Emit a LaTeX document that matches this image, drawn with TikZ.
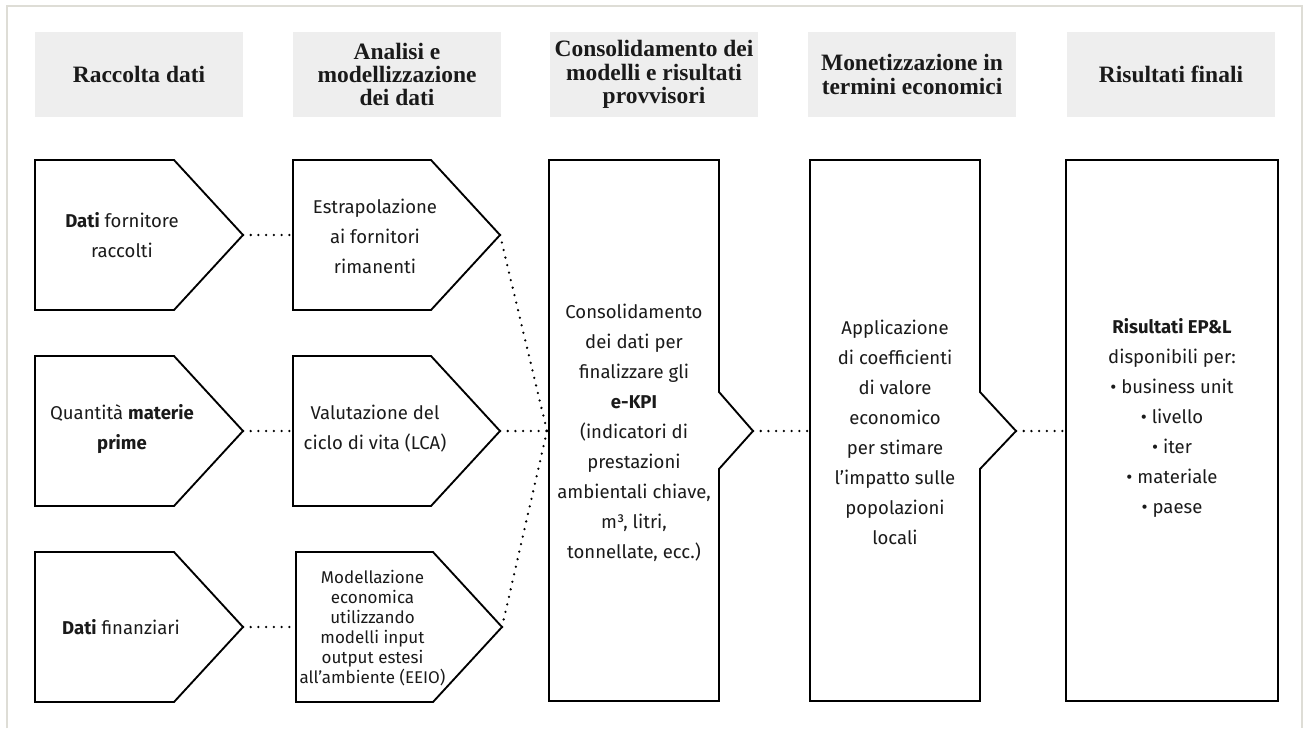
\documentclass[tikz,border=0pt]{standalone}
\usepackage{fontspec}
\setmainfont{Fira Sans}
\newfontfamily\headfont{Liberation Serif}
\definecolor{framegray}{HTML}{DEDDD6}
\definecolor{headgray}{HTML}{EEEEEE}
\definecolor{inkblack}{HTML}{1A1A1A}
\begin{document}
\begin{tikzpicture}[x=0.75pt,y=-0.75pt,
    headbox/.style={fill=headgray, minimum width=156pt, minimum height=63.75pt, align=center,
      text=inkblack, font=\headfont\bfseries\fontsize{17.6}{17.6}\selectfont},
    bodytext/.style={align=center, text=inkblack, font=\fontsize{13.9}{22.5}\selectfont},
    shapeline/.style={draw=black, line width=1.4pt, line join=miter},
    link/.style={line width=1.9pt, line cap=round, dash pattern=on 0pt off 5.8pt}]
    \useasboundingbox (0,0) rectangle (1308,728);

    % Marco exterior (abierto por abajo).
    \draw[framegray, line width=2pt] (7,728) -- (7,6) -- (1302,6) -- (1302,728);

    % Cabeceras de las cinco fases.
    \node[headbox] (h1) at (139,74.5) {Raccolta dati};
    \node[headbox] (h2) at (397,74.5) {Analisi e\\modellizzazione\\dei dati};
    \node[headbox] (h3) at (654,74.5) {Consolidamento dei\\modelli e risultati\\provvisori};
    \node[headbox] (h4) at (912,74.5) {Monetizzazione in\\termini economici};
    \node[headbox] (h5) at (1171,74.5) {Risultati finali};

    % Pentágonos de las dos primeras columnas.
    \draw[shapeline] (35,160) -- (174,160) -- (243,235) -- (174,310) -- (35,310) -- cycle;
    \draw[shapeline] (35,356) -- (174,356) -- (243,431) -- (174,506) -- (35,506) -- cycle;
    \draw[shapeline] (35,552) -- (174,552) -- (243,627) -- (174,702) -- (35,702) -- cycle;
    \draw[shapeline] (293,160) -- (431,160) -- (500,235) -- (431,310) -- (293,310) -- cycle;
    \draw[shapeline] (293,356) -- (431,356) -- (500,431) -- (431,506) -- (293,506) -- cycle;
    \draw[shapeline] (296,552) -- (433,552) -- (502,627) -- (433,702) -- (296,702) -- cycle;

    % Cajas altas con punta a la derecha y caja final.
    \draw[shapeline] (549,160) -- (719,160) -- (719,392) -- (753,431) -- (719,469) -- (719,701) -- (549,701) -- cycle;
    \draw[shapeline] (810,160) -- (980,160) -- (980,392) -- (1016,431) -- (980,469) -- (980,701) -- (810,701) -- cycle;
    \draw[shapeline] (1066,160) rectangle (1278,701);

    % Textos de cada figura.
    \node[bodytext] (t11) at (122,235) {\textbf{Dati} fornitore\\raccolti};
    \node[bodytext] (t12) at (122,429) {Quantità \textbf{materie}\\\textbf{prime}};
    \node[bodytext] (t13) at (121,627) {\textbf{Dati} finanziari};
    \node[bodytext] (t21) at (375,236) {Estrapolazione\\ai fornitori\\rimanenti};
    \node[bodytext] (t22) at (375,429) {Valutazione del\\ciclo di vita (LCA)};
    \node[bodytext, font=\fontsize{12.75}{15}\selectfont] (t23) at (372.5,628)
      {Modellazione\\economica\\utilizzando\\modelli input\\output estesi\\all’ambiente (EEIO)};
    \node[bodytext] (t3) at (634,433) {Consolidamento\\dei dati per\\finalizzare gli\\\textbf{e-KPI}\\(indicatori di\\prestazioni\\ambientali chiave,\\m³, litri,\\tonnellate, ecc.)};
    \node[bodytext] (t4) at (895,432) {Applicazione\\di coefficienti\\di valore\\economico\\per stimare\\l’impatto sulle\\popolazioni\\locali};
    \node[bodytext] (t5) at (1172,418) {\textbf{Risultati EP\&L}\\disponibili per:\\• business unit\\• livello\\• iter\\• materiale\\• paese};

    % Puntas y entradas que unen los conectores punteados.
    \coordinate (A1) at (243,235); \coordinate (B1) at (293,235);
    \coordinate (A2) at (243,431); \coordinate (B2) at (293,431);
    \coordinate (A3) at (243,627); \coordinate (B3) at (296,627);
    \coordinate (C1) at (500,235); \coordinate (C2) at (500,431); \coordinate (C3) at (502,627);
    \coordinate (J) at (547,431);
    \coordinate (K) at (753,431); \coordinate (L) at (810,431);
    \coordinate (M) at (1016,431); \coordinate (N) at (1066,431);

    % Conectores punteados.
    \draw[link] (A1) -- (B1);
    \draw[link] (A2) -- (B2);
    \draw[link] (A3) -- (B3);
    \draw[link] (C1) -- (J);
    \draw[link] (C2) -- (J);
    \draw[link] (C3) -- (J);
    \draw[link] (K) -- (L);
    \draw[link] (M) -- (N);
\end{tikzpicture}
\end{document}
